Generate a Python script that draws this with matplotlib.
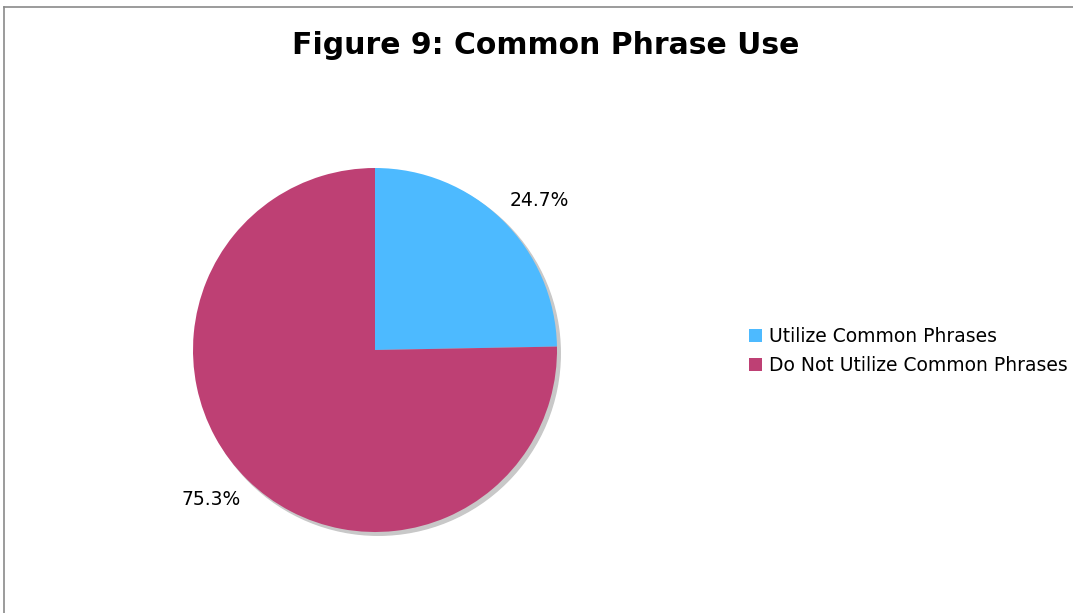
import matplotlib
matplotlib.use("Agg")
import numpy as np
import matplotlib.pyplot as plt
from matplotlib.lines import Line2D
from matplotlib.patches import Circle

labels = ["Utilize Common Phrases", "Do Not Utilize Common Phrases"]
shares = [24.7, 75.3]
colours = ["#4dbaff", "#be4074"]

W, H = 1073, 613
fig = plt.figure(figsize=(W / 100, H / 100), dpi=100)
fig.patch.set_facecolor("white")

# frame lines (top and left only, as in the source export)
fig.add_artist(Line2D([3.5 / W, 1], [1 - 7 / H, 1 - 7 / H], color="#8a8a8a", lw=1.2))
fig.add_artist(Line2D([3.5 / W, 3.5 / W], [0, 1 - 7 / H], color="#8a8a8a", lw=1.2))

fig.text(546 / W, 1 - 45 / H, "Figure 9: Common Phrase Use", ha="center", va="center",
         fontsize=21.5, fontweight="bold", family="DejaVu Sans")

cx, cy, r = 375, 350, 182
ax = fig.add_axes([(cx - r) / W, (H - cy - r) / H, 2 * r / W, 2 * r / H])

# soft drop shadow
ax.add_patch(Circle((0.018, -0.018), 1.0, color="#c8c8c8", zorder=0, clip_on=False))

wedges, texts, autotexts = ax.pie(
    shares, colors=colours, startangle=90, counterclock=False, radius=1.0,
    autopct="%.1f%%", pctdistance=1.22, frame=True,
    wedgeprops=dict(linewidth=0), textprops=dict(fontsize=13.5, color="black"))
for w in wedges:
    w.set_zorder(2)
# labels sit a touch clockwise of the wedge middle in the original
for w, t in zip(wedges, autotexts):
    ang = np.deg2rad((w.theta1 + w.theta2) / 2 - 3.2)
    t.set_position((1.22 * np.cos(ang), 1.22 * np.sin(ang)))
ax.set_xlim(-1, 1)
ax.set_ylim(-1, 1)
ax.set_aspect("equal")
ax.axis("off")

fig.legend(wedges, labels, loc="center left", bbox_to_anchor=(749 / W, 1 - 351 / H),
           frameon=False, fontsize=13.5, handlelength=0.7, handleheight=0.7,
           handletextpad=0.35, labelspacing=0.55, borderpad=0, borderaxespad=0)

fig.savefig("out.png", dpi=100)
